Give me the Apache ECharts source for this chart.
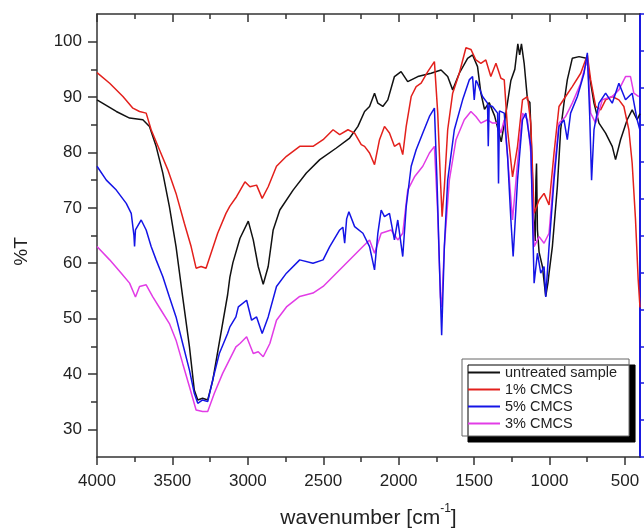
<!DOCTYPE html>
<html>
<head>
<meta charset="utf-8">
<script src="https://cdn.jsdelivr.net/npm/echarts@6/dist/echarts.min.js"></script>
<style>
html,body{margin:0;padding:0;background:#fff;}
#chart{width:644px;height:531px;}
</style>
</head>
<body>
<div id="chart"></div>
<script>
// ---- data (wavenumber cm^-1, %T) ----
const seriesNames = ['untreated sample', '1% CMCS', '5% CMCS', '3% CMCS'];
const xTickValues = [4000, 3500, 3000, 2500, 2000, 1500, 1000, 500];
const yTickValues = [30, 40, 50, 60, 70, 80, 90, 100];

const untreatedW = [4000,3872,3784,3696,3652,3608,3564,3520,3476,3432,3387,3355,3332,3300,3266,3233,3189,3134,3119,3099,3052,2997,2964,2931,2898,2865,2832,2788,2700,2612,2523,2413,2325,2270,2226,2193,2160,2138,2105,2072,2028,1984,1940,1873,1785,1719,1675,1642,1598,1543,1510,1477,1455,1431,1400,1364,1320,1289,1256,1230,1210,1198,1186,1168,1146,1130,1118,1105,1095,1090,1086,1080,1069,1047,1025,1010,1003,981,948,926,904,882,849,804,756,738,705,672,628,584,562,529,485,452,419,400];
const untreatedT = [89.5,87.4,86.2,85.9,84.7,81.1,76.3,70.2,63.0,53.9,44.9,37.1,35.3,35.6,35.3,38.8,45.7,54.3,57.5,60.1,64.5,67.6,64.2,59.4,56.2,59.4,66.0,69.6,73.2,76.3,78.7,80.8,82.6,84.7,87.4,88.3,90.7,88.9,88.3,89.5,93.7,94.6,92.8,93.7,94.3,94.9,93.7,91.3,94.3,97.0,97.6,95.5,90.7,87.8,89.0,86.6,81.9,87.1,93.0,95.0,99.6,97.6,99.6,96.1,89.5,89.0,80.0,68.0,64.0,75.0,78.0,66.0,62.0,59.4,54.0,56.5,58.2,63.0,73.8,84.1,88.9,93.1,97.0,97.3,97.0,94.3,88.9,85.3,83.5,81.1,78.7,82.3,85.9,87.7,85.9,87.0];

const cmcs1W = [4000,3916,3828,3762,3718,3674,3641,3586,3531,3476,3421,3376,3343,3310,3277,3244,3200,3145,3119,3075,3019,2986,2942,2905,2865,2810,2744,2656,2568,2501,2435,2391,2336,2292,2248,2226,2193,2160,2127,2094,2061,2028,1995,1973,1950,1917,1884,1851,1807,1763,1741,1723,1712,1697,1675,1642,1598,1554,1521,1488,1455,1422,1389,1355,1322,1300,1278,1245,1212,1179,1146,1124,1102,1069,1036,1003,970,937,893,849,793,749,727,694,661,628,584,540,507,474,452,430,412,400];
const cmcs1T = [94.4,92.5,90.1,88.0,87.4,87.1,84.1,80.5,76.9,72.6,67.2,63.0,59.1,59.4,59.1,61.8,65.4,69.0,70.3,72.0,74.7,73.8,74.1,71.7,73.8,77.5,79.3,81.1,81.1,82.3,84.1,83.2,84.1,83.5,81.4,81.1,79.9,77.8,82.3,84.7,83.5,81.1,81.7,79.6,84.7,90.1,91.9,92.5,94.6,96.4,87.1,75.0,68.4,73.8,84.1,90.7,94.3,98.9,98.6,96.7,96.1,96.7,93.7,96.1,93.4,93.1,84.1,75.6,81.1,89.5,90.1,85.3,69.0,71.4,72.6,70.5,79.9,88.3,90.1,91.9,94.3,97.6,93.1,88.3,87.7,89.5,90.1,89.5,88.3,84.1,78.1,68.0,57.0,52.0];

const cmcs5W = [4000,3938,3872,3806,3773,3755,3751,3745,3740,3707,3674,3641,3608,3564,3520,3476,3432,3387,3355,3332,3300,3266,3233,3189,3134,3119,3079,3063,3008,2975,2942,2905,2865,2810,2744,2656,2568,2501,2457,2391,2370,2358,2345,2330,2292,2237,2193,2160,2138,2116,2094,2061,2028,2006,1973,1950,1917,1884,1840,1796,1763,1746,1730,1715,1697,1675,1631,1576,1532,1510,1499,1488,1477,1444,1411,1406,1400,1378,1344,1338,1332,1300,1278,1256,1241,1212,1179,1157,1124,1102,1080,1058,1036,1025,1003,970,937,904,882,860,815,771,749,734,721,705,672,628,584,540,496,452,419,400];
const cmcs5T = [77.5,75.0,73.2,70.8,69.0,65.0,63.0,66.0,66.0,67.8,66.0,63.0,60.6,57.6,53.9,50.3,45.5,40.7,36.5,34.7,35.3,35.0,38.9,43.7,47.3,48.5,50.3,52.1,53.3,49.7,50.3,47.3,50.3,55.8,58.2,60.6,60.0,60.6,63.0,66.0,66.5,63.6,68.0,69.3,66.6,65.4,63.0,58.8,65.4,69.6,68.4,69.0,64.2,67.8,61.2,70.2,77.5,80.5,83.5,86.5,88.0,75.0,60.0,47.0,63.0,75.0,84.1,89.5,93.1,93.7,89.5,93.0,92.5,90.1,88.9,81.1,88.5,88.3,87.1,74.4,87.5,87.1,79.3,67.8,61.2,75.0,85.9,87.1,81.1,56.4,61.8,58.2,59.4,53.9,63.0,75.0,84.7,85.9,82.3,87.1,90.1,94.3,98.0,87.1,75.0,84.1,88.9,90.7,88.9,92.5,89.5,90.7,85.9,84.0];

const cmcs3W = [4000,3916,3839,3784,3745,3718,3674,3630,3575,3520,3476,3432,3387,3343,3300,3266,3222,3167,3123,3079,3052,3008,2964,2931,2898,2854,2810,2744,2656,2568,2501,2435,2369,2303,2237,2193,2160,2116,2050,2006,1973,1940,1895,1840,1796,1763,1741,1723,1715,1697,1664,1620,1565,1521,1488,1455,1411,1378,1344,1322,1300,1278,1245,1212,1179,1146,1124,1102,1069,1036,1003,970,937,893,849,793,749,727,694,650,584,540,496,463,441,408];
const cmcs3T = [63.0,60.6,58.2,56.4,53.9,55.8,56.1,53.9,51.5,49.1,46.1,41.9,37.7,33.5,33.2,33.2,36.5,40.1,42.5,44.9,45.5,46.7,43.7,44.0,43.1,45.5,49.7,52.1,54.0,54.6,55.8,57.6,59.4,61.2,63.0,64.2,61.8,65.4,66.0,64.2,65.4,73.2,75.6,77.5,79.9,81.1,69.0,53.9,52.1,63.0,75.0,82.3,85.9,87.4,86.5,85.3,85.9,85.3,85.3,83.5,85.9,79.3,67.8,78.1,87.1,85.9,79.9,63.0,64.8,63.6,65.4,76.3,85.3,86.5,88.9,92.5,97.0,87.1,85.3,89.5,90.1,91.3,93.7,93.7,90.7,90.1];

const seriesColors = ['#111111', '#e3201c', '#1414e6', '#e23ce6'];
// ---------------------------------------

function pairs(w, t) { return w.map((v, i) => [v, t[i]]); }
const allData = [pairs(untreatedW, untreatedT), pairs(cmcs1W, cmcs1T), pairs(cmcs5W, cmcs5T), pairs(cmcs3W, cmcs3T)];

const FONT = 'Liberation Sans, Arial, sans-serif';
const axisColor = '#333';
const plain = v => String(v);

const chart = echarts.init(document.getElementById('chart'), null, {renderer: 'canvas'});

const baseX = {
  type: 'value', inverse: true, min: 400, max: 4000, splitNumber: 7,
  splitLine: {show: false},
  axisLine: {show: true, onZero: false, lineStyle: {color: axisColor, width: 1.5}},
};

chart.setOption({
  animation: false,
  backgroundColor: '#fff',
  grid: {left: 97, right: 4, top: 14, bottom: 74, containLabel: false, outerBoundsMode: 'none'},
  xAxis: [
    Object.assign({}, baseX, {
      position: 'bottom',
      name: '{a|wavenumber [cm}{s|-1}{a|]}',
      nameLocation: 'middle', nameGap: 46,
      nameTextStyle: {
        rich: {
          a: {fontFamily: FONT, fontSize: 21, color: '#222', lineHeight: 26, verticalAlign: 'bottom'},
          s: {fontFamily: FONT, fontSize: 12, color: '#222', lineHeight: 26, verticalAlign: 'top'}
        }
      },
      axisTick: {show: true, inside: false, length: 8, lineStyle: {color: axisColor, width: 1.5}, customValues: xTickValues},
      minorTick: {show: true, splitNumber: 2, length: 5, lineStyle: {color: axisColor, width: 1.5}},
      axisLabel: {show: true, margin: 16, fontSize: 17, color: '#222', fontFamily: FONT, customValues: xTickValues, formatter: plain}
    }),
    Object.assign({}, baseX, {
      position: 'top',
      axisTick: {show: true, inside: true, length: 8, lineStyle: {color: axisColor, width: 1.5}, customValues: xTickValues},
      minorTick: {show: true, splitNumber: 2, length: 5, lineStyle: {color: axisColor, width: 1.5}},
      axisLabel: {show: false}
    })
  ],
  yAxis: [
    {
      type: 'value', min: 25, max: 105, splitNumber: 8, position: 'left',
      name: '%T', nameLocation: 'middle', nameGap: 66, nameRotate: 90,
      nameTextStyle: {fontFamily: FONT, fontSize: 19, color: '#222', padding: [0, 32, 0, 0]},
      splitLine: {show: false},
      axisLine: {show: true, onZero: false, lineStyle: {color: axisColor, width: 1.5}},
      axisTick: {show: true, inside: false, length: 9, lineStyle: {color: axisColor, width: 1.5}, customValues: yTickValues},
      minorTick: {show: true, splitNumber: 2, length: 6, lineStyle: {color: axisColor, width: 1.5}},
      axisLabel: {show: true, margin: 15, fontSize: 17, color: '#222', fontFamily: FONT, customValues: yTickValues, formatter: plain}
    },
    {
      type: 'value', min: 0, max: 12, interval: 1, position: 'right',
      splitLine: {show: false},
      axisLine: {show: true, onZero: false, lineStyle: {color: '#1a1ae0', width: 2}},
      axisTick: {show: true, inside: false, length: 4, lineStyle: {color: '#1a1ae0', width: 1.5}},
      axisLabel: {show: false}
    }
  ],
  legend: {
    show: true, orient: 'vertical', left: 462, top: 359,
    data: seriesNames,
    icon: 'rect', itemWidth: 32, itemHeight: 2, itemGap: 2,
    padding: [6, 12, 5, 6],
    backgroundColor: '#fff', borderColor: '#666', borderWidth: 1,
    shadowColor: '#000', shadowBlur: 0, shadowOffsetX: 6, shadowOffsetY: 6,
    borderRadius: 0,
    textStyle: {fontFamily: FONT, fontSize: 14.5, color: '#222', lineHeight: 15, padding: [0, 0, 0, 0]},
    selectedMode: false
  },
  series: seriesNames.map((name, i) => ({
    name: name, type: 'line', xAxisIndex: 0, yAxisIndex: 0,
    data: allData[i], showSymbol: false, symbol: 'none',
    color: seriesColors[i],
    lineStyle: {color: seriesColors[i], width: 1.5},
    z: [2, 3, 5, 4][i]
  }))
});
</script>
</body>
</html>
